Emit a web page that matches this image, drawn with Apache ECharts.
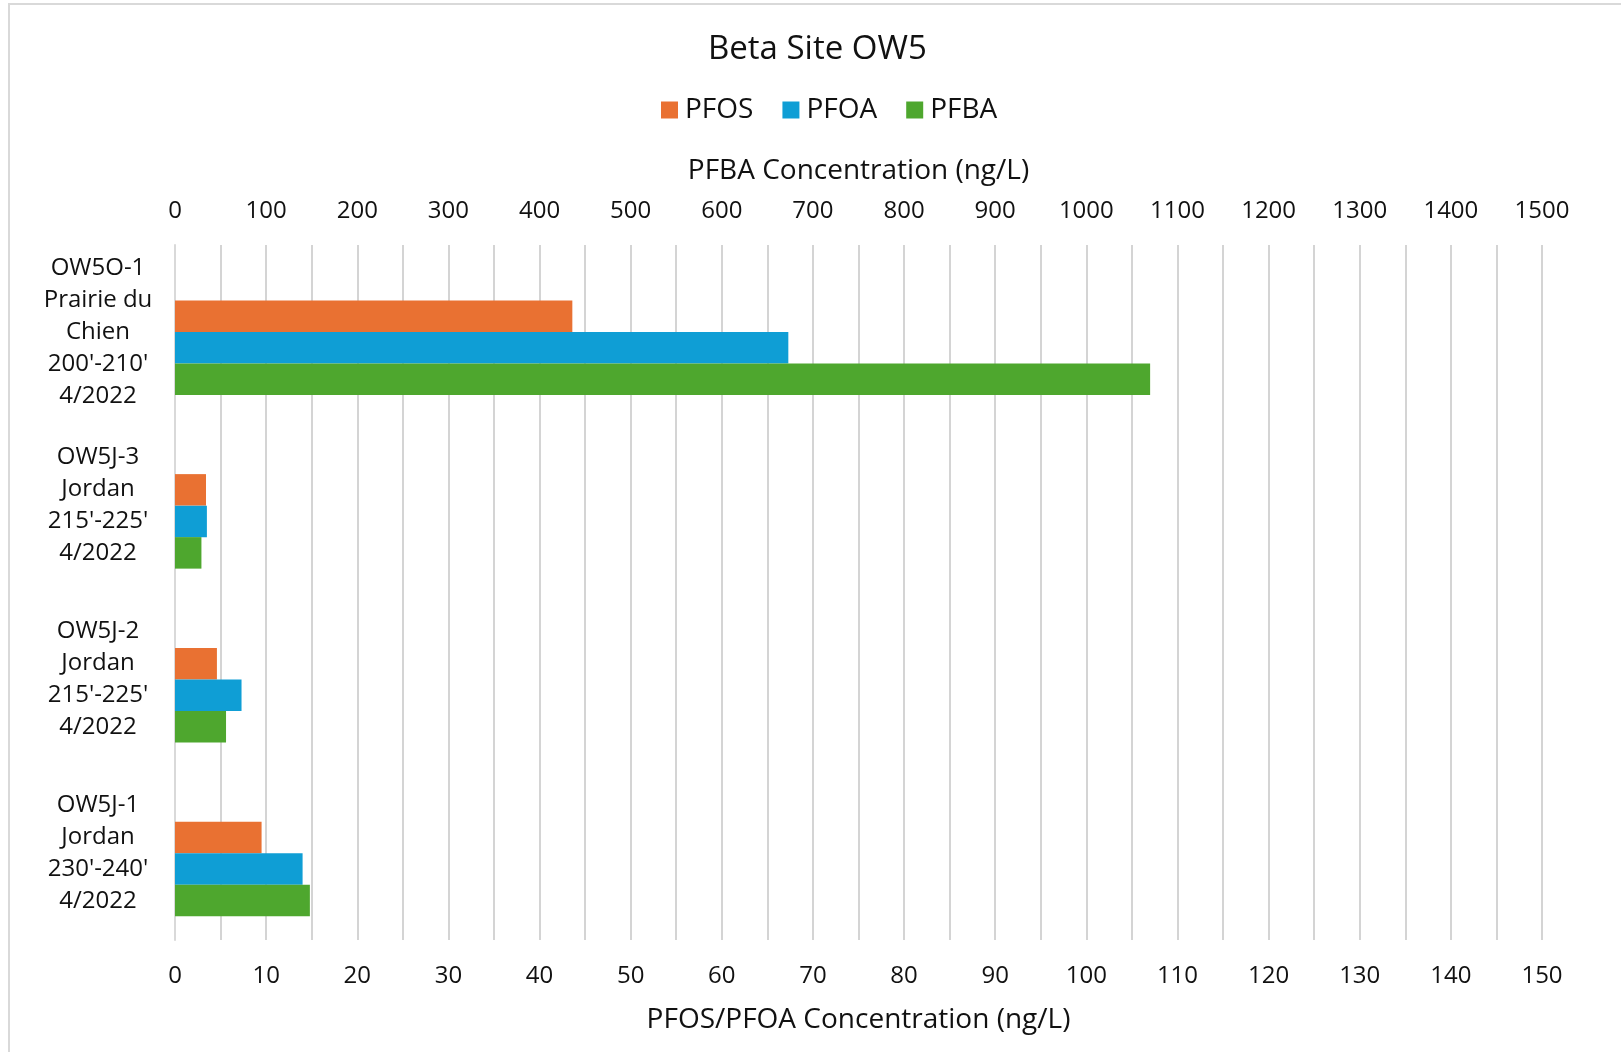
<!DOCTYPE html>
<html>
<head>
<meta charset="utf-8">
<script src="https://cdn.jsdelivr.net/npm/echarts@6/dist/echarts.min.js"></script>
<style>html,body{margin:0;padding:0;background:#fff}#chart{width:1621px;height:1052px}</style>
</head>
<body>
<div id="chart"></div>
<script>
var categories = [
  "OW5O-1\nPrairie du\nChien\n200'-210'\n4/2022",
  "OW5J-3\nJordan\n215'-225'\n4/2022",
  "OW5J-2\nJordan\n215'-225'\n4/2022",
  "OW5J-1\nJordan\n230'-240'\n4/2022"
];
var pfos = [43.6, 3.4, 4.6, 9.5];
var pfoa = [67.3, 3.5, 7.3, 14.0];
var pfba = [1070, 29, 56, 148];
var placeholder = ['-', '-', '-', '-'];

var FONT = 'Open Sans';
var TXT = '#111';
var chart = echarts.init(document.getElementById('chart'), null, {renderer: 'canvas'});
var gridColor = '#c6c6c6';
function plain(v) { return String(v); }
chart.setOption({
  animation: false,
  backgroundColor: '#fff',
  textStyle: {fontFamily: FONT, color: TXT},
  graphic: [{
    type: 'rect', shape: {x: 9, y: 4, width: 1700, height: 1100},
    style: {fill: 'none', stroke: '#d9d9d9', lineWidth: 2}, z: -1
  }],
  title: {
    text: 'Beta Site OW5', left: 708, top: 33, padding: 0,
    textStyle: {fontFamily: FONT, fontSize: 33, fontWeight: 'normal', color: TXT}
  },
  legend: {
    data: ['PFOS', 'PFOA', 'PFBA'], left: 661, top: 96, padding: 0,
    itemWidth: 17, itemHeight: 17, itemGap: 29, icon: 'rect',
    textStyle: {fontFamily: FONT, fontSize: 28, color: TXT, padding: [0, 0, 0, 2]}
  },
  grid: {left: 175, right: 79, top: 245, bottom: 112},
  xAxis: [{
    type: 'value', position: 'bottom', min: 0, max: 150, interval: 10,
    name: 'PFOS/PFOA Concentration (ng/L)', nameLocation: 'middle', nameGap: 66,
    nameTextStyle: {fontFamily: FONT, fontSize: 28, color: TXT},
    axisLabel: {fontFamily: FONT, fontSize: 24, color: TXT, margin: 24, formatter: plain},
    axisLine: {show: false}, axisTick: {show: false},
    splitLine: {show: true, lineStyle: {color: gridColor, width: 1.5}},
    minorTick: {show: false, splitNumber: 2},
    minorSplitLine: {show: true, lineStyle: {color: gridColor, width: 1.5}}
  }, {
    type: 'value', position: 'top', min: 0, max: 1500, interval: 100,
    name: 'PFBA Concentration (ng/L)', nameLocation: 'middle', nameGap: 60,
    nameTextStyle: {fontFamily: FONT, fontSize: 28, color: TXT},
    axisLabel: {fontFamily: FONT, fontSize: 24, color: TXT, margin: 22, formatter: plain},
    axisLine: {show: false}, axisTick: {show: false},
    splitLine: {show: false}
  }],
  yAxis: {
    type: 'category', data: categories, inverse: true,
    axisLine: {show: true, lineStyle: {color: '#d9d9d9', width: 2}},
    axisTick: {show: false},
    axisLabel: {fontFamily: FONT, fontSize: 24, color: TXT, align: 'center', margin: 77, lineHeight: 32}
  },
  series: [
    {name: 'spacer', type: 'bar', xAxisIndex: 0, data: placeholder, barWidth: 31.5, barGap: '0%', silent: true},
    {name: 'PFOS', type: 'bar', xAxisIndex: 0, data: pfos, barWidth: 31.5, barGap: '0%', itemStyle: {color: '#E97132'}},
    {name: 'PFOA', type: 'bar', xAxisIndex: 0, data: pfoa, barWidth: 31.5, barGap: '0%', itemStyle: {color: '#0F9ED5'}},
    {name: 'PFBA', type: 'bar', xAxisIndex: 1, data: pfba, barWidth: 31.5, barGap: '0%', itemStyle: {color: '#4EA72E'}}
  ]
});
</script>
</body>
</html>
